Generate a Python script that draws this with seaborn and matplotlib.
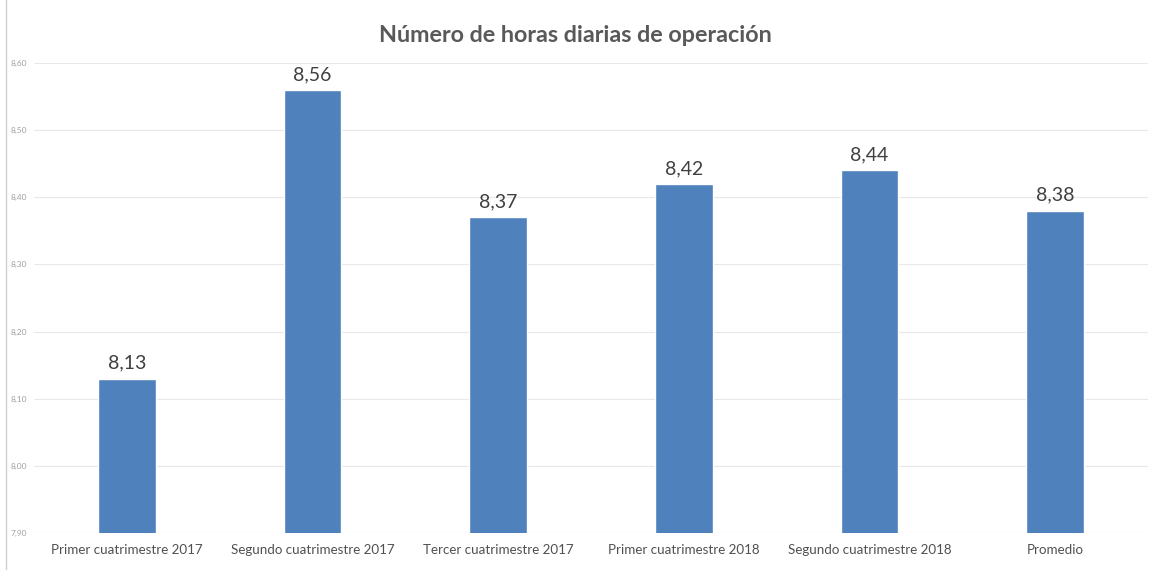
import matplotlib
matplotlib.use("Agg")
import matplotlib.pyplot as plt
import seaborn as sns
import pandas as pd
from matplotlib.lines import Line2D

categories = ["Primer cuatrimestre 2017", "Segundo cuatrimestre 2017", "Tercer cuatrimestre 2017",
              "Primer cuatrimestre 2018", "Segundo cuatrimestre 2018", "Promedio"]
values = [8.13, 8.56, 8.37, 8.42, 8.44, 8.38]
yticks = [7.90, 8.00, 8.10, 8.20, 8.30, 8.40, 8.50, 8.60]
title = "Número de horas diarias de operación"

sns.set_theme(style="white")
plt.rcParams['font.family'] = ['Lato', 'DejaVu Sans']

df = pd.DataFrame({"cat": categories, "val": values})
fig = plt.figure(figsize=(11.51, 5.70), dpi=100)
ax = fig.add_axes([34/1151, 1-533/570, (1148-34)/1151, (533-63)/570])
sns.barplot(data=df, x="cat", y="val", color="#4F81BD", saturation=1, width=0.31, ax=ax, zorder=3)
ax.set_ylim(7.90, 8.60)
ax.set_xlim(-0.5, len(categories)-0.5)
ax.set_yticks(yticks)
ax.set_yticklabels([f"{v:.2f}".replace(".", ",") for v in yticks], fontsize=6, color="#A0A0A0")
ax.tick_params(axis='y', length=0, pad=5)
ax.tick_params(axis='x', length=0, pad=8, labelsize=9.6, labelcolor="#505050")
ax.set_xlabel("")
ax.set_ylabel("")
ax.grid(axis='y', color="#E8E8E8", linewidth=0.8, zorder=0)
for s in ax.spines.values():
    s.set_visible(False)
ax.axhline(7.90, color="#D9D9D9", linewidth=0.8, zorder=2)
for i, v in enumerate(values):
    ax.annotate(f"{v:.2f}".replace(".", ","), (i, v), xytext=(0, 5), textcoords="offset points",
                ha="center", va="bottom", fontsize=14, color="#404040")
fig.text(0.5, 1-36/570, title, ha="center", va="center", fontsize=16.8, fontweight="bold", color="#595959")
fig.add_artist(Line2D([6/1151, 6/1151], [0, 1], color="#D0D0D0", linewidth=1, transform=fig.transFigure))
fig.savefig("out.png", dpi=100)
